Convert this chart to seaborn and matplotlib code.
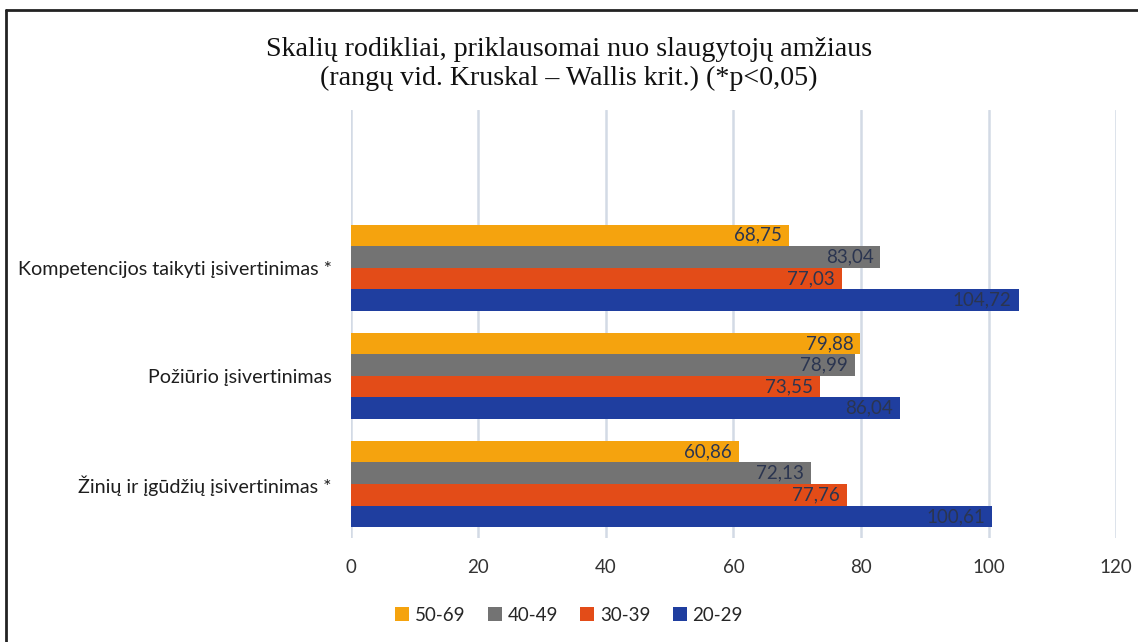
import pandas as pd
import seaborn as sns
from matplotlib import pyplot as plt
from matplotlib.lines import Line2D

# Values
scales = ['Kompetencijos taikyti įsivertinimas *', 'Požiūrio įsivertinimas', 'Žinių ir įgūdžių įsivertinimas *']
age_groups = ['50-69', '40-49', '30-39', '20-29']
age_50_69 = [68.75, 79.88, 60.86]
age_40_49 = [83.04, 78.99, 72.13]
age_30_39 = [77.03, 73.55, 77.76]
age_20_29 = [104.72, 86.04, 100.61]
x_ticks = [0, 20, 40, 60, 80, 100, 120]

colors = ['#F5A30E', '#737373', '#E34C18', '#1F3E9F']

rows = []
for age, vals in zip(age_groups, [age_50_69, age_40_49, age_30_39, age_20_29]):
    for scale, v in zip(scales, vals):
        rows.append({'scale': scale, 'age': age, 'value': v})
df = pd.DataFrame(rows)

sns.set_style('white')
plt.rcParams['font.family'] = ['Lato', 'DejaVu Sans']

fig = plt.figure(figsize=(11.38, 6.42), dpi=100)
ax = fig.add_axes([0.3084, 0.162, 0.6723, 0.6667])

sns.barplot(data=df, y='scale', x='value', hue='age', order=scales, hue_order=age_groups,
            palette=colors, orient='h', width=0.8, saturation=1, linewidth=0, ax=ax, legend=True)

# data labels inside bar ends
for p in ax.patches:
    w = p.get_width()
    if w == 0:
        continue
    ax.annotate(f'{w:.2f}'.replace('.', ','), (w, p.get_y() + p.get_height() / 2),
                xytext=(-5, 0), textcoords='offset points', ha='right', va='center',
                fontsize=13.5, color='#2B3550')

ax.set_xlim(0, 120)
ax.set_ylim(2.5, -1.46)
ax.set_xticks(x_ticks)
ax.grid(axis='x', color='#D3DAE5', linewidth=1.8)
ax.set_axisbelow(True)
for s in ax.spines.values():
    s.set_visible(False)
ax.set_xlabel('')
ax.set_ylabel('')
ax.tick_params(axis='x', length=0, pad=15, labelsize=13.5, labelcolor='#333333')
ax.tick_params(axis='y', length=0, pad=14, labelsize=14.2, labelcolor='#1E1E1E')

handles, labels = ax.get_legend_handles_labels()
ax.get_legend().remove()
fig.legend(handles, labels, loc='center', bbox_to_anchor=(0.5, 0.042), ncol=4, frameon=False,
           fontsize=13.5, handlelength=0.75, handleheight=0.75, handletextpad=0.3, columnspacing=1.2)

fig.text(0.5, 0.9, 'Skalių rodikliai, priklausomai nuo slaugytojų amžiaus\n'
         '(rangų vid. Kruskal – Wallis krit.) (*p<0,05)',
         ha='center', va='center', fontsize=20.2, family='Liberation Serif',
         linespacing=1.22, color='#111111')

# frame lines of the cropped picture (top and left only)
fig.add_artist(Line2D([0.0053, 1.0], [0.984, 0.984], transform=fig.transFigure, color='#222222', lw=2))
fig.add_artist(Line2D([0.0053, 0.0053], [0.0, 0.984], transform=fig.transFigure, color='#222222', lw=2))

fig.savefig('out.png', dpi=100)
